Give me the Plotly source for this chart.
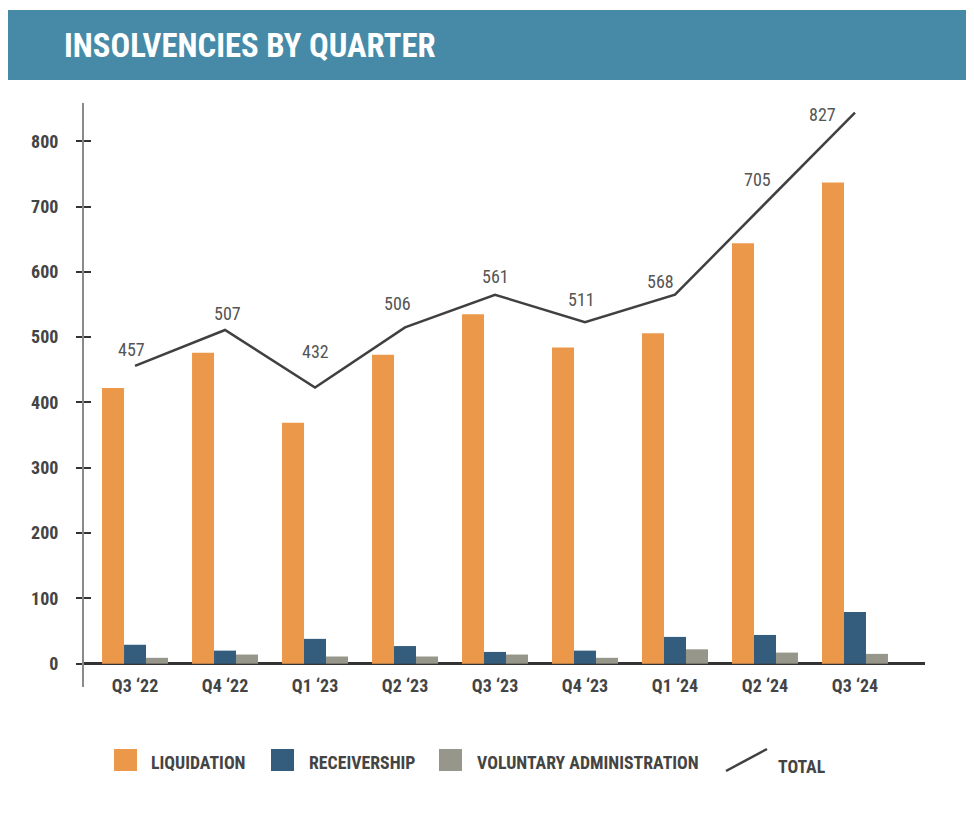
import plotly.graph_objects as go

quarters = ["Q3 \u201822", "Q4 \u201822", "Q1 \u201823", "Q2 \u201823", "Q3 \u201823",
            "Q4 \u201823", "Q1 \u201824", "Q2 \u201824", "Q3 \u201824"]
liquidation = [422, 476, 369, 473, 535, 484, 506, 644, 737]
receivership = [29, 20, 38, 27, 18, 20, 41, 44, 79]
voluntary_admin = [9, 14, 11, 11, 14, 9, 22, 17, 15]
total_line = [456, 511, 423, 515, 565, 523, 565, 705, 844]
total_labels = ["457", "507", "432", "506", "561", "511", "568", "705", "827"]

C_LIQ = "#EB984A"
C_REC = "#335C7D"
C_VA = "#96968A"
C_LINE = "#404040"
C_TEXT = "#444444"
FONT = "Roboto Condensed, Liberation Sans Narrow, DejaVu Sans Condensed, Roboto, sans-serif"

OFF = 8  # page body margin
W, H = 974 - 2 * OFF, 816 - 2 * OFF
# plot area in page pixels: x 84..925, y 103..687
L = 84 - OFF
R = W - (925 - OFF)
T = 103 - OFF
B = H - (687 - OFF)
PW, PH = W - L - R, H - T - B


def px(x):
    return (x - OFF - L) / PW


def py(y):
    return (H - B - (y - OFF)) / PH


fig = go.Figure()
fig.add_trace(go.Bar(x=quarters, y=liquidation, name="LIQUIDATION", marker_color=C_LIQ,
                     marker_line_width=0))
fig.add_trace(go.Bar(x=quarters, y=receivership, name="RECEIVERSHIP", marker_color=C_REC,
                     marker_line_width=0))
fig.add_trace(go.Bar(x=quarters, y=voluntary_admin, name="VOLUNTARY ADMINISTRATION", marker_color=C_VA,
                     marker_line_width=0))
fig.add_trace(go.Scatter(x=quarters, y=total_line, name="TOTAL", mode="lines",
                         line=dict(color=C_LINE, width=2.5), cliponaxis=False))

# label offsets (style only)
xshifts = [-4, 2, 0, -8, 0, -4, -14, -7, -32]
yshifts = [16, 16, 36, 24, 18, 23, 13, 24, -2]
annotations = []
for q, v, t, xs, ys in zip(quarters, total_line, total_labels, xshifts, yshifts):
    annotations.append(dict(x=q, y=v, text=t, showarrow=False, xshift=xs, yshift=ys,
                            xanchor="center", yanchor="middle",
                            font=dict(family=FONT, size=18, color="#555555")))

fig.update_layout(
    width=W, height=H,
    margin=dict(l=L, r=R, t=T, b=B),
    paper_bgcolor="white", plot_bgcolor="white",
    barmode="group", bargap=0.267, bargroupgap=0,
    showlegend=False,
    font=dict(family=FONT, color=C_TEXT),
    xaxis=dict(range=[-0.567, 8.778], showgrid=False, showline=False, zeroline=False,
               ticks="", anchor="free", position=py(664),
               tickfont=dict(family=FONT, size=18, color=C_TEXT, weight="bold"),
               ticklabelstandoff=9),
    yaxis=dict(range=[-35.7, 858.6], tickvals=[0, 100, 200, 300, 400, 500, 600, 700, 800],
               showgrid=False, showline=True, linecolor="#8a8a8a", linewidth=2,
               ticks="outside", ticklen=6, tickwidth=2, tickcolor="#333333",
               zeroline=True, zerolinecolor="#333333", zerolinewidth=3,
               tickfont=dict(family=FONT, size=18, color=C_TEXT, weight="bold"),
               ticklabelstandoff=14),
    yaxis2=dict(range=[-35.7, 858.6], overlaying="y", side="left",
                tickvals=[0, 100, 200, 300, 400, 500, 600, 700, 800],
                showticklabels=False, showgrid=False, zeroline=False, showline=False,
                ticks="inside", ticklen=7, tickwidth=2, tickcolor="#333333"),
)
# empty trace to activate yaxis2
fig.add_trace(go.Scatter(x=[quarters[0]], y=[None], yaxis="y2", showlegend=False, hoverinfo="skip"))

shapes = []
# title banner
shapes.append(dict(type="rect", xref="paper", yref="paper", x0=px(8), x1=px(966), y0=py(80), y1=py(10),
                   fillcolor="#478AA8", line=dict(width=0), layer="below"))
annotations.append(dict(xref="paper", yref="paper", x=px(62), y=py(46), xanchor="left", yanchor="middle",
                        text="INSOLVENCIES BY QUARTER", showarrow=False,
                        font=dict(family=FONT, size=32.7, color="white", weight="bold")))
# legend
leg = [(114, C_LIQ, 149, "LIQUIDATION"), (271, C_REC, 307, "RECEIVERSHIP"),
       (439, C_VA, 475, "VOLUNTARY ADMINISTRATION")]
for x0, col, tx, txt in leg:
    shapes.append(dict(type="rect", xref="paper", yref="paper", x0=px(x0), x1=px(x0 + 23),
                       y0=py(771), y1=py(749), fillcolor=col, line=dict(width=0)))
    annotations.append(dict(xref="paper", yref="paper", x=px(tx), y=py(762), xanchor="left", yanchor="middle",
                            text=txt, showarrow=False,
                            font=dict(family=FONT, size=17.8, color=C_TEXT, weight="bold")))
shapes.append(dict(type="line", xref="paper", yref="paper", x0=px(726), y0=py(771), x1=px(767), y1=py(749),
                   line=dict(color=C_LINE, width=2.5)))
annotations.append(dict(xref="paper", yref="paper", x=px(776), y=py(766), xanchor="left", yanchor="middle",
                        text="TOTAL", showarrow=False,
                        font=dict(family=FONT, size=17.8, color=C_TEXT, weight="bold")))

fig.update_layout(shapes=shapes, annotations=annotations)
fig.write_html("out.html")
